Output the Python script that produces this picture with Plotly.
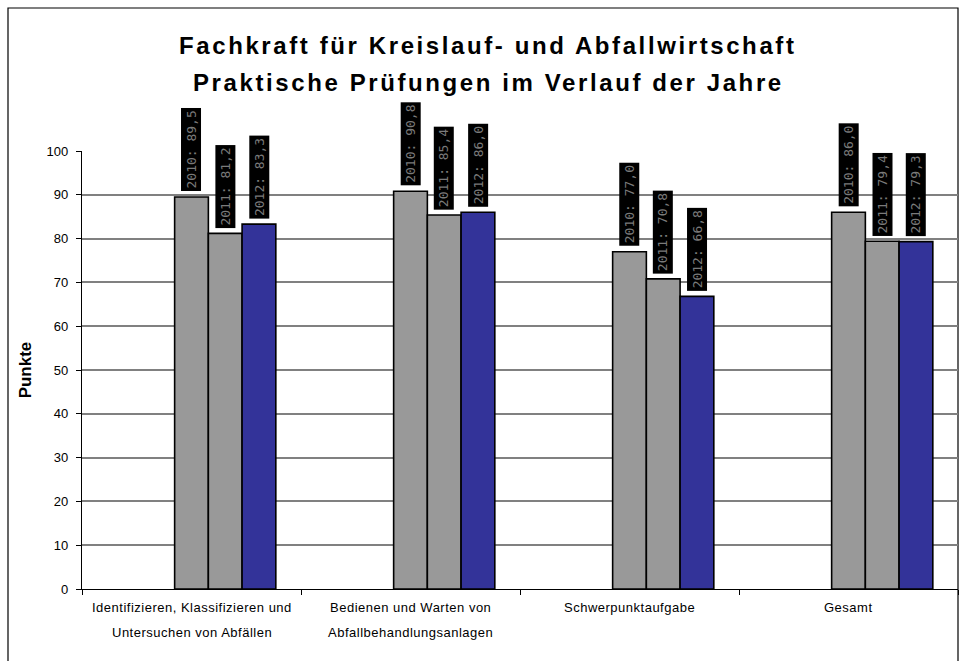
import plotly.graph_objects as go

categories = [
    "Identifizieren, Klassifizieren und<br>Untersuchen von Abfällen",
    "Bedienen und Warten von<br>Abfallbehandlungsanlagen",
    "Schwerpunktaufgabe",
    "Gesamt",
]
years = ["2010", "2011", "2012"]
values_2010 = [89.5, 90.8, 77.0, 86.0]
values_2011 = [81.2, 85.4, 70.8, 79.4]
values_2012 = [83.3, 86.0, 66.8, 79.3]
series = [values_2010, values_2011, values_2012]
colors = ["#999999", "#999999", "#333399"]
y_ticks = [0, 10, 20, 30, 40, 50, 60, 70, 80, 90, 100]

W, H = 962, 661
ML, MR, MT, MB = 82, 4, 151, 72
plot_w = W - ML - MR
cat_px = plot_w / len(categories)
bw = 0.154  # bar width in category units

fig = go.Figure()
x_idx = list(range(len(categories)))
for i, (yr, vals, col) in enumerate(zip(years, series, colors)):
    fig.add_trace(go.Bar(
        x=x_idx, y=vals, name=yr, width=bw, offset=-bw / 2 + i * bw,
        marker=dict(color=col, line=dict(color="#000000", width=1.6)),
        showlegend=False,
    ))

annotations = []
for i, (yr, vals) in enumerate(zip(years, series)):
    for c, v in enumerate(vals):
        annotations.append(dict(
            x=c + i * bw, y=v, xref="x", yref="y",
            text=f"{yr}: {v:.1f}".replace(".", ","),
            textangle=-90, showarrow=False, yanchor="bottom", xanchor="center",
            yshift=5, bgcolor="#000000", borderpad=2,
            font=dict(family="DejaVu Sans Mono", size=13, color="#7a7a7a"),
        ))

plot_h = H - MT - MB
def py(px):
    return (H - MB - px) / plot_h

for c, lab in enumerate(categories):
    for k, line in enumerate(lab.split("<br>")):
        annotations.append(dict(
            x=c, y=py(607 + 25 * k), xref="x", yref="paper",
            text=f'<span style="letter-spacing:0.5px">{line}</span>',
            showarrow=False, xanchor="center", yanchor="middle",
            font=dict(family="Liberation Sans, Arial", size=13, color="#000000"),
        ))

title_lines = ["Fachkraft für Kreislauf- und Abfallwirtschaft",
               "Praktische Prüfungen im Verlauf der Jahre"]
for k, t in enumerate(title_lines):
    annotations.append(dict(
        x=(488 - ML) / plot_w, y=py(45 + 38 * k), xref="paper", yref="paper",
        text=f'<span style="letter-spacing:2.6px"><b>{t}</b></span>',
        showarrow=False, xanchor="center", yanchor="middle",
        font=dict(family="Liberation Sans, Arial", size=24, color="#000000"),
    ))

fig.update_layout(
    width=W, height=H,
    margin=dict(l=ML, r=MR, t=MT, b=MB, pad=0),
    paper_bgcolor="#ffffff", plot_bgcolor="#ffffff",
    annotations=annotations,
    barmode="overlay",
    shapes=[dict(type="rect", xref="paper", yref="paper",
                 x0=(8 - ML) / plot_w, x1=(958 - ML) / plot_w,
                 y0=py(700), y1=py(8),
                 line=dict(color="#000000", width=1.2), fillcolor="rgba(0,0,0,0)",
                 layer="below")],
)
fig.update_xaxes(
    range=[-0.5, len(categories) - 0.5], tickvals=[c + 0.5 for c in x_idx[:-1]] + [-0.5, len(categories) - 0.5],
    showticklabels=False, ticks="outside", ticklen=5, tickcolor="#000000",
    showline=True, linecolor="#000000", linewidth=1.2, showgrid=False, zeroline=False,
)
fig.update_yaxes(
    range=[0, 100], tickvals=y_ticks, ticks="outside", ticklen=5, tickcolor="#000000",
    ticklabelstandoff=5,
    showline=True, linecolor="#000000", linewidth=1.2,
    showgrid=True, gridcolor="#808080", gridwidth=1.5, zeroline=False,
    tickfont=dict(family="Liberation Sans, Arial", size=13, color="#000000"),
    title=dict(text="<b>Punkte</b>", standoff=10,
               font=dict(family="Liberation Sans, Arial", size=17, color="#000000")),
)

fig.write_html("out.html")
